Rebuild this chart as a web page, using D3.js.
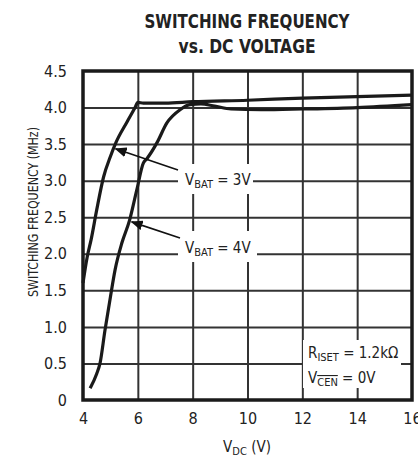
<!DOCTYPE html>
<html>
<head>
<meta charset="utf-8">
<script src="https://cdn.jsdelivr.net/npm/d3@7"></script>
<style>
  body { margin: 0; background: #fff; }
  text { font-family: 'Liberation Sans Narrow', 'DejaVu Sans Condensed', 'Roboto', sans-serif; fill: #222; }
</style>
</head>
<body>
<div id="chart"></div>
<script>
// data
var xTicks = [4, 6, 8, 10, 12, 14, 16];
var xTickLabels = ["4", "6", "8", "10", "12", "14", "16"];
var yTicks = [0, 0.5, 1.0, 1.5, 2.0, 2.5, 3.0, 3.5, 4.0, 4.5];
var yTickLabels = ["0", "0.5", "1.0", "1.5", "2.0", "2.5", "3.0", "3.5", "4.0", "4.5"];

var vdc3 = [4.0, 4.15, 4.3, 4.5, 4.75, 5.0, 5.2, 5.6, 5.9, 6.0, 6.2, 7.0, 8.0, 10.0, 12.0, 14.0, 16.0];
var freq3 = [1.6, 1.95, 2.2, 2.6, 3.05, 3.33, 3.52, 3.8, 4.0, 4.07, 4.06, 4.06, 4.08, 4.1, 4.13, 4.15, 4.17];

var vdc4 = [4.26, 4.5, 4.62, 4.8, 5.0, 5.17, 5.42, 5.7, 5.96, 6.2, 6.33, 6.7, 7.06, 7.54, 7.9, 8.3, 8.8, 9.4, 10.5, 12.0, 14.0, 16.0];
var freq4 = [0.16, 0.36, 0.5, 0.95, 1.41, 1.78, 2.15, 2.46, 2.87, 3.24, 3.3, 3.52, 3.79, 3.97, 4.04, 4.05, 4.02, 3.98, 3.97, 3.98, 4.0, 4.04];

var margin = {top: 71, right: 6, bottom: 59, left: 83},
    width = 418 - margin.left - margin.right,
    height = 459 - margin.top - margin.bottom;

var root = d3.select("#chart").append("svg")
    .attr("width", 418)
    .attr("height", 459);

// title
root.append("text")
    .attr("x", 247).attr("y", 28)
    .attr("text-anchor", "middle")
    .attr("font-size", "20px")
    .attr("font-weight", "bold")
    .attr("textLength", 205).attr("lengthAdjust", "spacingAndGlyphs")
    .text("SWITCHING FREQUENCY");
root.append("text")
    .attr("x", 247).attr("y", 53)
    .attr("text-anchor", "middle")
    .attr("font-size", "20px")
    .attr("font-weight", "bold")
    .attr("textLength", 137).attr("lengthAdjust", "spacingAndGlyphs")
    .text("vs. DC VOLTAGE");

var svg = root.append("g")
    .attr("transform", "translate(" + margin.left + "," + margin.top + ")");

var x = d3.scaleLinear().domain([4, 16]).range([0, width]);
var y = d3.scaleLinear().domain([0, 4.5]).range([height, 0]);

// grid
svg.append("g")
    .attr("class", "xgrid")
    .call(d3.axisBottom(x).tickValues(xTicks.slice(1, -1)).tickSize(height).tickFormat(""))
    .call(g => g.select(".domain").remove())
    .selectAll("line")
    .attr("stroke", "#333").attr("stroke-width", 2);

svg.append("g")
    .attr("class", "ygrid")
    .call(d3.axisLeft(y).tickValues(yTicks.slice(1, -1)).tickSize(-width).tickFormat(""))
    .call(g => g.select(".domain").remove())
    .selectAll("line")
    .attr("stroke", "#333").attr("stroke-width", 2);

// axes (labels only)
svg.append("g")
    .attr("transform", "translate(0," + height + ")")
    .call(d3.axisBottom(x).tickValues(xTicks).tickSize(0).tickPadding(13)
        .tickFormat((d, i) => xTickLabels[i]))
    .call(g => g.select(".domain").remove())
    .selectAll("text")
    .attr("font-size", "16px")
    .attr("fill", "#222");

svg.append("g")
    .call(d3.axisLeft(y).tickValues(yTicks).tickSize(0).tickPadding(16)
        .tickFormat((d, i) => yTickLabels[i]))
    .call(g => g.select(".domain").remove())
    .selectAll("text")
    .attr("font-size", "16px")
    .attr("fill", "#222");

// axis titles
var xt = root.append("text")
    .attr("x", 247).attr("y", 452)
    .attr("text-anchor", "middle")
    .attr("font-size", "15px");
xt.append("tspan").text("V");
xt.append("tspan").attr("font-size", "11px").attr("dy", 3).text("DC");
xt.append("tspan").attr("dy", -3).text(" (V)");

root.append("text")
    .attr("transform", "translate(38,212) rotate(-90)")
    .attr("text-anchor", "middle")
    .attr("font-size", "14px")
    .attr("textLength", 170).attr("lengthAdjust", "spacingAndGlyphs")
    .text("SWITCHING FREQUENCY (MHz)");

// curves
var line = d3.line()
    .x(d => x(d[0]))
    .y(d => y(d[1]))
    .curve(d3.curveMonotoneX);

svg.append("path")
    .datum(d3.zip(vdc3, freq3))
    .attr("d", line)
    .attr("fill", "none")
    .attr("stroke", "#1a1a1a")
    .attr("stroke-width", 3.2)
    .attr("stroke-linejoin", "round");

svg.append("path")
    .datum(d3.zip(vdc4, freq4))
    .attr("d", line)
    .attr("fill", "none")
    .attr("stroke", "#1a1a1a")
    .attr("stroke-width", 3.2)
    .attr("stroke-linejoin", "round");

// arrow marker
root.append("defs").append("marker")
    .attr("id", "arrow")
    .attr("viewBox", "0 0 12 10")
    .attr("refX", 11).attr("refY", 5)
    .attr("markerWidth", 12).attr("markerHeight", 10)
    .attr("markerUnits", "userSpaceOnUse")
    .attr("orient", "auto")
    .append("path")
    .attr("d", "M0,0 L12,5 L0,10 Z")
    .attr("fill", "#111");

// annotation helper: white box, label with subscript
function label(g, bx, by, bw, bh, tx, ty, main, sub, rest) {
    g.append("rect")
        .attr("x", bx).attr("y", by).attr("width", bw).attr("height", bh)
        .attr("fill", "#fff");
    var t = g.append("text")
        .attr("x", tx).attr("y", ty)
        .attr("font-size", "15px");
    t.append("tspan").text(main);
    t.append("tspan").attr("font-size", "11px").attr("dy", 3).text(sub);
    t.append("tspan").attr("dy", -3).text(rest);
    return t;
}

var ann = root.append("g");
label(ann, 178, 164, 75, 30, 185, 185, "V", "BAT", " = 3V");
ann.append("line")
    .attr("x1", 178).attr("y1", 170)
    .attr("x2", x(5.15) + margin.left + 1).attr("y2", y(3.45) + margin.top + 1)
    .attr("stroke", "#111").attr("stroke-width", 1.6)
    .attr("marker-end", "url(#arrow)");

label(ann, 178, 231, 79, 31, 185, 253, "V", "BAT", " = 4V");
ann.append("line")
    .attr("x1", 180).attr("y1", 238)
    .attr("x2", x(5.7) + margin.left + 2).attr("y2", y(2.45) + margin.top + 1)
    .attr("stroke", "#111").attr("stroke-width", 1.6)
    .attr("marker-end", "url(#arrow)");

// conditions box
label(ann, 303, 340, 98, 48, 308, 358, "R", "ISET", " = 1.2k\u03A9");
var vc = ann.append("text")
    .attr("x", 308).attr("y", 383)
    .attr("font-size", "15px");
vc.append("tspan").text("V");
vc.append("tspan").attr("font-size", "11px").attr("dy", 3)
    .attr("text-decoration", "overline").text("CEN");
vc.append("tspan").attr("dy", -3).text(" = 0V");

// frame
svg.append("rect")
    .attr("x", 0).attr("y", 0)
    .attr("width", width).attr("height", height)
    .attr("fill", "none")
    .attr("stroke", "#1a1a1a")
    .attr("stroke-width", 3.5);
</script>
</body>
</html>
